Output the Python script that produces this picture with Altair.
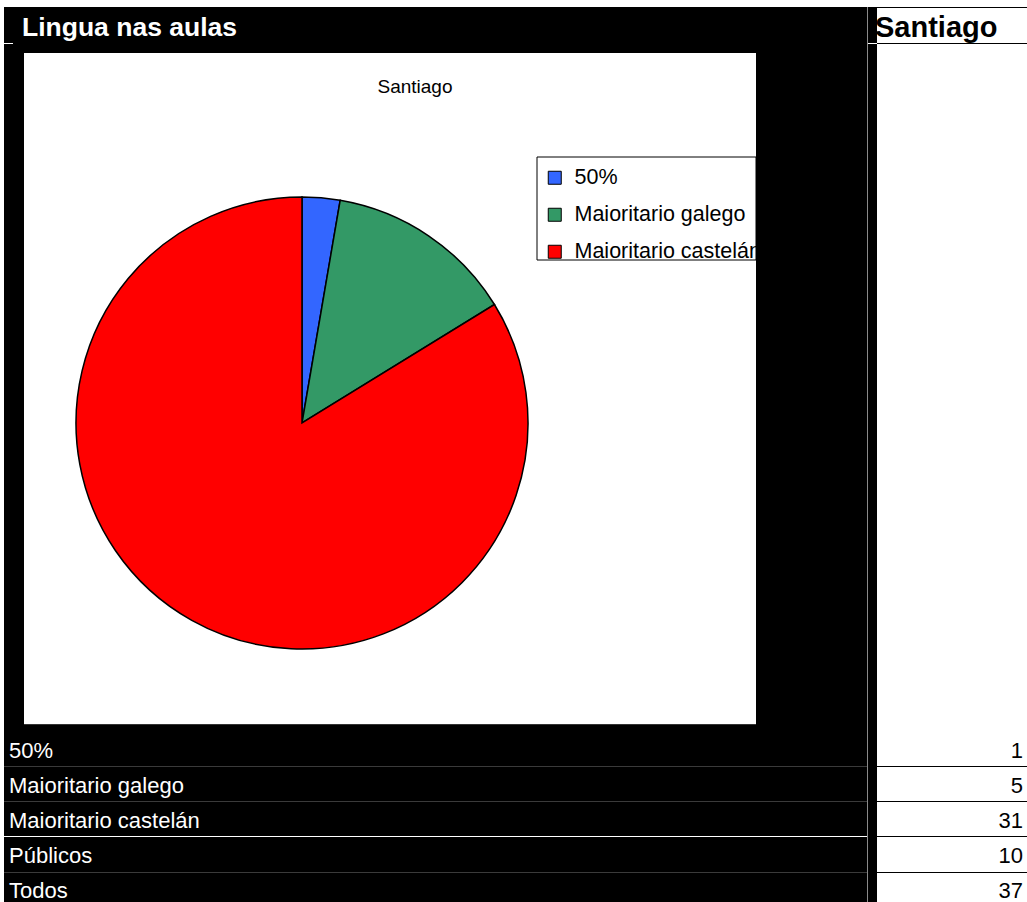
import altair as alt
import pandas as pd

# ---- data ----
categories = ["50%", "Maioritario galego", "Maioritario castelán"]
counts = [1, 5, 31]
colors = ["#3366FF", "#339966", "#FF0000"]
row_labels = ["50%", "Maioritario galego", "Maioritario castelán", "Públicos", "Todos"]
row_values = [1, 5, 31, 10, 37]
sheet_title = "Lingua nas aulas"
column_header = "Santiago"
chart_title = "Santiago"

FONT = "Liberation Sans"

pie_df = pd.DataFrame({"category": categories, "count": counts, "order": list(range(len(categories)))})
table_df = pd.DataFrame({"label": row_labels, "value": row_values})


def one():
    return alt.Data(values=[{"k": 1}])


def rect(x, x2, y, y2, fill, stroke=None, sw=1):
    kw = dict(fill=fill)
    if stroke:
        kw.update(stroke=stroke, strokeWidth=sw)
    else:
        kw.update(strokeWidth=0)
    return alt.Chart(one()).mark_rect(**kw).encode(
        x=alt.value(x), x2=alt.value(x2), y=alt.value(y), y2=alt.value(y2))


def hline(x, x2, y, color, sw=1):
    return alt.Chart(one()).mark_rule(color=color, strokeWidth=sw).encode(
        x=alt.value(x), x2=alt.value(x2), y=alt.value(y))


def vline(x, y, y2, color, sw=1):
    return alt.Chart(one()).mark_rule(color=color, strokeWidth=sw).encode(
        x=alt.value(x), y=alt.value(y), y2=alt.value(y2))


def label(text, x, y, size, color, bold=False, align="left"):
    return alt.Chart(alt.Data(values=[{"t": text}])).mark_text(
        font=FONT, fontSize=size, fontWeight="bold" if bold else "normal",
        color=color, align=align, baseline="middle").encode(
        text="t:N", x=alt.value(x), y=alt.value(y))


layers = []
# black sheet area
layers.append(rect(4, 877, 7, 902, "black"))
# right column header borders
layers.append(hline(877, 1027, 7.5, "black"))
layers.append(hline(877, 1027, 43.5, "black"))
layers.append(hline(0, 13, 43.5, "white"))
layers.append(hline(867, 877, 43.5, "white"))
# vertical grey separator
layers.append(vline(867.5, 7, 902, "#8a8a8a"))
# chart white area
layers.append(rect(24, 756, 53, 724, "white"))
layers.append(hline(24, 756, 724.5, "#333333"))
# legend frame
layers.append(rect(537, 756, 157, 260, "white", stroke="black", sw=1))

# row separator lines
row_lines = [766.5, 801.5, 836.5, 872.5]
for i, yy in enumerate(row_lines):
    layers.append(hline(4, 867, yy, "white" if i == 2 else "#3a3a3a"))
    layers.append(hline(877, 1027, yy, "black"))

# pie
pie = alt.Chart(pie_df).mark_arc(
    stroke="black", strokeWidth=1.5, outerRadius=226
).encode(
    theta=alt.Theta("count:Q", stack=True),
    order=alt.Order("order:O"),
    color=alt.Color(
        "category:N",
        scale=alt.Scale(domain=categories, range=colors),
        legend=alt.Legend(
            title=None, orient="none", legendX=544, legendY=167,
            direction="vertical", symbolType="square", symbolSize=169,
            symbolStrokeColor="black", symbolStrokeWidth=1,
            labelFont=FONT, labelFontSize=21.5, labelColor="black",
            labelOffset=9, rowPadding=14, padding=0, labelLimit=400,
        ),
    ),
    x=alt.value(302), y=alt.value(423),
)
layers.append(pie)

# texts
layers.append(label(sheet_title, 22, 28, 26.5, "white", bold=True))
layers.append(label(column_header, 875, 28, 29, "black", bold=True))
layers.append(label(chart_title, 415, 87, 19, "black", align="center"))

yscale = alt.Scale(domain=row_labels, range=[733, 909], paddingInner=0, paddingOuter=0)
row_text = alt.Chart(table_df).mark_text(
    font=FONT, fontSize=22, color="white", align="left", baseline="middle"
).encode(text="label:N", x=alt.value(9), y=alt.Y("label:N", scale=yscale, axis=None))
val_text = alt.Chart(table_df).mark_text(
    font=FONT, fontSize=22, color="black", align="right", baseline="middle"
).encode(text="value:Q", x=alt.value(1023), y=alt.Y("label:N", scale=yscale, axis=None))
layers += [row_text, val_text]

chart = alt.layer(*layers).properties(
    width=1027, height=902, padding=0, autosize=alt.AutoSizeParams(type="none"),
    background="white",
).configure_view(stroke=None)

chart.save("out.html", embed_options={"renderer": "svg", "actions": False})
